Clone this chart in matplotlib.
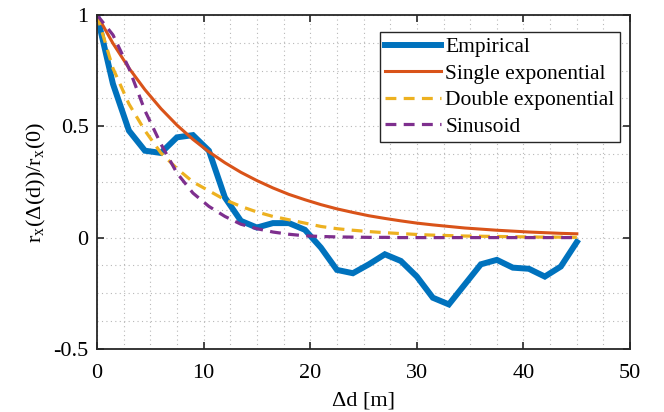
import matplotlib
matplotlib.use("Agg")
import matplotlib.pyplot as plt
from matplotlib.ticker import MultipleLocator

plt.rcParams['font.family'] = ['Liberation Serif', 'DejaVu Serif']
plt.rcParams['mathtext.fontset'] = 'stix'

# Lag distance in metres
delta_d = [0.0, 1.5, 3.0, 4.5, 6.0, 7.5, 9.0, 10.5, 12.0, 13.5, 15.0, 16.5,
           18.0, 19.5, 21.0, 22.5, 24.0, 25.5, 27.0, 28.5, 30.0, 31.5, 33.0,
           34.5, 36.0, 37.5, 39.0, 40.5, 42.0, 43.5, 45.0]

empirical = [1.00, 0.69, 0.48, 0.39, 0.38, 0.45, 0.46, 0.39, 0.18, 0.075,
             0.045, 0.065, 0.065, 0.035, -0.045, -0.145, -0.16, -0.12, -0.075,
             -0.105, -0.175, -0.27, -0.30, -0.21, -0.12, -0.10, -0.135, -0.14,
             -0.175, -0.13, -0.02]

single_exp = [1.00, 0.872, 0.761, 0.664, 0.579, 0.505, 0.441, 0.385, 0.336,
              0.293, 0.256, 0.223, 0.194, 0.170, 0.148, 0.129, 0.113, 0.098,
              0.086, 0.075, 0.065, 0.057, 0.050, 0.043, 0.038, 0.033, 0.029,
              0.025, 0.022, 0.019, 0.017]

double_exp = [1.00, 0.76, 0.60, 0.48, 0.38, 0.31, 0.25, 0.21, 0.17, 0.14,
              0.115, 0.095, 0.08, 0.065, 0.05, 0.04, 0.033, 0.027, 0.022,
              0.018, 0.014, 0.011, 0.009, 0.007, 0.006, 0.005, 0.004, 0.003,
              0.002, 0.002, 0.001]

sinusoid = [1.00, 0.91, 0.76, 0.57, 0.42, 0.29, 0.20, 0.14, 0.095, 0.06,
            0.04, 0.025, 0.015, 0.008, 0.005, 0.003, 0.002, 0.001, 0.001,
            0.0, 0.0, 0.0, 0.0, 0.0, 0.0, 0.0, 0.0, 0.0, 0.0, 0.0, 0.0]

fig = plt.figure(figsize=(6.64, 4.12), dpi=100)
ax = fig.add_axes([0.146, 0.153, 0.803, 0.811])

ax.plot(delta_d, empirical, color='#0072BD', lw=4.3, label='Empirical',
        solid_joinstyle='miter')
ax.plot(delta_d, single_exp, color='#D95319', lw=2.2, label='Single exponential')
ax.plot(delta_d, double_exp, color='#EDB120', lw=2.3, ls=(0, (3.4, 2.3)),
        label='Double exponential')
ax.plot(delta_d, sinusoid, color='#7E2F8E', lw=2.3, ls=(0, (3.4, 2.3)),
        label='Sinusoid')

ax.set_xlim(0, 50)
ax.set_ylim(-0.5, 1)
ax.xaxis.set_major_locator(MultipleLocator(10))
ax.xaxis.set_minor_locator(MultipleLocator(2.5))
ax.yaxis.set_major_locator(MultipleLocator(0.5))
ax.yaxis.set_minor_locator(MultipleLocator(0.125))
ax.yaxis.set_major_formatter(plt.FuncFormatter(lambda v, p: f'{v:g}'))

ax.grid(which='both', color='#b8b8b8', ls=(0, (1, 3)), lw=0.8)
ax.set_axisbelow(True)

ax.tick_params(which='major', direction='in', length=5, width=1.2,
               top=True, right=True, labelsize=16, colors='#262626',
               labelcolor='black')
ax.tick_params(axis='x', which='major', pad=11)
ax.tick_params(axis='y', which='major', pad=6)
ax.tick_params(which='minor', length=0)
for s in ax.spines.values():
    s.set_linewidth(1.3)
    s.set_color('#262626')

ax.set_xlabel('Δd [m]', fontsize=16, labelpad=6)
ax.set_ylabel(r'r$_{\mathregular{x}}$(Δ(d))/r$_{\mathregular{x}}$(0)',
              fontsize=16, labelpad=4)

leg = ax.legend(loc='upper right', bbox_to_anchor=(0.981, 0.949),
                fontsize=15.5, frameon=True, fancybox=False,
                edgecolor='#262626', framealpha=1, borderpad=0.25,
                labelspacing=0.3, handlelength=2.6, handletextpad=0.2,
                borderaxespad=0.0)
leg.get_frame().set_linewidth(1.0)

fig.savefig('out.png', dpi=100)
